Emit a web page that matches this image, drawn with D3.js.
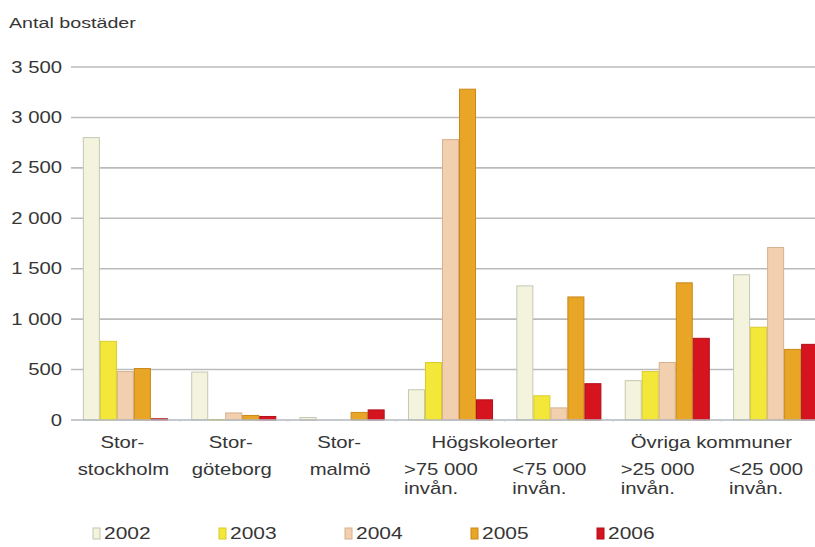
<!DOCTYPE html>
<html>
<head>
<meta charset="utf-8">
<script src="https://cdn.jsdelivr.net/npm/d3@7"></script>
<style>
  html, body { margin: 0; padding: 0; background: #ffffff; }
  svg { display: block; }
  text { font-family: "Liberation Sans", Arial, sans-serif; fill: #363636; }
</style>
</head>
<body>
<svg id="chart" width="815" height="547"></svg>
<script>
// Groups of municipalities
const categories = ["sthlm", "gbg", "malmo", "hogsk_gt75", "hogsk_lt75", "ovr_gt25", "ovr_lt25"];
const labelLine1 = ["Stor-", "Stor-", "Stor-", "", "", "", ""];
const labelLine2 = ["stockholm", "göteborg", "malmö", ">75 000", "<75 000", ">25 000", "<25 000"];
const labelLine3 = ["", "", "", "invån.", "invån.", "invån.", "invån."];
const groupHeaders = [
  { text: "Högskoleorter", from: "hogsk_gt75", to: "hogsk_lt75" },
  { text: "Övriga kommuner", from: "ovr_gt25", to: "ovr_lt25" }
];

// Years and number of dwellings per group
const years = ["2002", "2003", "2004", "2005", "2006"];
const values2002 = [2800, 475, 25, 300, 1330, 390, 1440];
const values2003 = [780, 5, 0, 570, 240, 480, 920];
const values2004 = [480, 70, 0, 2780, 120, 570, 1710];
const values2005 = [510, 45, 75, 3280, 1220, 1360, 700];
const values2006 = [12, 35, 100, 200, 360, 810, 750];
const seriesValues = [values2002, values2003, values2004, values2005, values2006];

const yTicks = [0, 500, 1000, 1500, 2000, 2500, 3000, 3500];
const yTitle = "Antal bostäder";

const fillColors = ["#f4f4de", "#f3e83a", "#f2cfae", "#e9a526", "#d5141f"];
const strokeColors = ["#c4c7b2", "#d9cc2a", "#d6b08e", "#c98818", "#b01018"];

const svg = d3.select("#chart");
const TX = 1.27; // horizontal text stretch
const fmt = v => d3.format(",")(v).replace(/,/g, " ");

function stretchedText(sel, x, y, str, anchor, size) {
  return sel.append("text")
    .attr("transform", `translate(${x},${y}) scale(${TX},1)`)
    .attr("text-anchor", anchor || "start")
    .attr("font-size", size || 16)
    .text(str);
}

const y = d3.scaleLinear().domain([0, 3500]).range([420, 67]);
const x = d3.scaleBand().domain(categories).range([72, 829])
  .paddingInner(0.215).paddingOuter(0.1);
const xs = d3.scaleBand().domain(years).range([0, x.bandwidth()]);

// Gridlines
svg.append("g").selectAll("line")
  .data(yTicks.filter(t => t > 0))
  .join("line")
  .attr("x1", 71).attr("x2", 815)
  .attr("y1", d => y(d)).attr("y2", d => y(d))
  .attr("stroke", "#bbbbbb").attr("stroke-width", 1.6);

// Y tick labels
const yl = svg.append("g");
yTicks.forEach(t => stretchedText(yl, 62, y(t) + 5.5, fmt(t), "end", 16));
stretchedText(svg, 9, 28, yTitle, "start", 15.5);

// Bars
const bars = svg.append("g");
years.forEach((yr, si) => {
  bars.append("g").selectAll("rect")
    .data(categories.map((c, i) => ({ c, v: seriesValues[si][i] })))
    .join("rect")
    .attr("x", d => x(d.c) + xs(yr) + 0.5)
    .attr("y", d => y(d.v))
    .attr("width", xs.bandwidth() - 1)
    .attr("height", d => y(0) - y(d.v))
    .attr("fill", fillColors[si])
    .attr("stroke", strokeColors[si])
    .attr("stroke-width", 1);
});

// Baseline and faint category separators
svg.append("line")
  .attr("x1", 71).attr("x2", 815)
  .attr("y1", y(0)).attr("y2", y(0))
  .attr("stroke", "#b3b8bf").attr("stroke-width", 1.6);
svg.append("g").selectAll("line")
  .data(categories.slice(1))
  .join("line")
  .attr("x1", d => x(d) - x.step() * x.paddingInner() / 2)
  .attr("x2", d => x(d) - x.step() * x.paddingInner() / 2)
  .attr("y1", y(0) - 1).attr("y2", y(0) + 1.5)
  .attr("stroke", "#c3cad3").attr("stroke-width", 1.5);

// Category labels
const xl = svg.append("g");
categories.forEach((c, i) => {
  const cx = x(c) + x.bandwidth() / 2;
  if (labelLine1[i]) {
    stretchedText(xl, cx - 3, 448, labelLine1[i], "middle", 16);
    stretchedText(xl, cx - 2, 475, labelLine2[i], "middle", 16);
  } else {
    stretchedText(xl, x(c) - 4, 475, labelLine2[i], "start", 16);
    stretchedText(xl, x(c) - 4, 494, labelLine3[i], "start", 16);
  }
});
groupHeaders.forEach(h => {
  const mid = (x(h.from) + x(h.to) + x.bandwidth()) / 2;
  stretchedText(xl, mid - 10, 448, h.text, "middle", 16);
});

// Legend
const lg = svg.append("g");
years.forEach((yr, si) => {
  const lx = 93 + si * 126;
  lg.append("rect")
    .attr("x", lx).attr("y", 528).attr("width", 7).attr("height", 11)
    .attr("fill", fillColors[si]).attr("stroke", strokeColors[si]).attr("stroke-width", 1);
  stretchedText(lg, lx + 11, 539, yr, "start", 16.5);
});
</script>
</body>
</html>
